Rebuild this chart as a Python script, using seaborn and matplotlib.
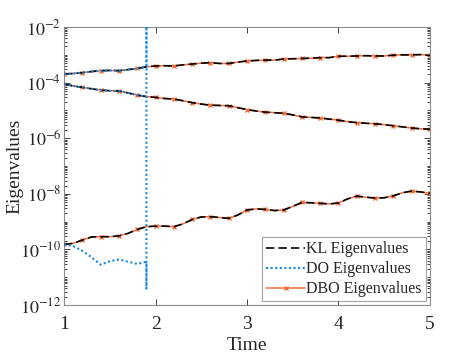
import numpy as np
import seaborn as sns
import matplotlib.pyplot as plt
from matplotlib.lines import Line2D
from matplotlib.ticker import LogLocator, FixedLocator, NullFormatter

# Tempo (passo 0.1)
time = [1.0, 1.1, 1.2, 1.3, 1.4, 1.5, 1.6, 1.7, 1.8, 1.9,
        2.0, 2.1, 2.2, 2.3, 2.4, 2.5, 2.6, 2.7, 2.8, 2.9,
        3.0, 3.1, 3.2, 3.3, 3.4, 3.5, 3.6, 3.7, 3.8, 3.9,
        4.0, 4.1, 4.2, 4.3, 4.4, 4.5, 4.6, 4.7, 4.8, 4.9, 5.0]

# log10 dos autovalores KL / DBO
log_eig1 = [-3.69, -3.67, -3.64, -3.60, -3.57, -3.56, -3.57, -3.53, -3.49, -3.43,
            -3.40, -3.39, -3.40, -3.36, -3.33, -3.30, -3.28, -3.31, -3.31, -3.26,
            -3.22, -3.20, -3.19, -3.19, -3.15, -3.14, -3.13, -3.12, -3.10, -3.10,
            -3.05, -3.05, -3.04, -3.03, -3.04, -3.04, -3.01, -3.00, -3.00, -2.99, -3.02]
log_eig2 = [-4.05, -4.12, -4.17, -4.22, -4.27, -4.29, -4.30, -4.37, -4.45, -4.50,
            -4.53, -4.57, -4.59, -4.65, -4.72, -4.77, -4.81, -4.82, -4.83, -4.90,
            -4.97, -5.02, -5.06, -5.08, -5.10, -5.16, -5.23, -5.25, -5.27, -5.31,
            -5.35, -5.40, -5.44, -5.46, -5.48, -5.51, -5.55, -5.59, -5.63, -5.66, -5.67]
log_eig3 = [-9.82, -9.78, -9.66, -9.55, -9.54, -9.54, -9.51, -9.42, -9.28, -9.18,
            -9.16, -9.16, -9.18, -9.08, -8.92, -8.83, -8.82, -8.85, -8.88, -8.76,
            -8.58, -8.54, -8.56, -8.60, -8.58, -8.45, -8.31, -8.32, -8.34, -8.36,
            -8.33, -8.18, -8.08, -8.12, -8.15, -8.14, -8.07, -7.96, -7.90, -7.93, -7.98]

# DO: so ate t = 1.9, depois diverge
time_do = [1.0, 1.1, 1.2, 1.3, 1.4, 1.5, 1.6, 1.7, 1.8, 1.9]
log_do1 = [-3.69, -3.67, -3.64, -3.60, -3.57, -3.56, -3.57, -3.53, -3.49, -3.43]
log_do2 = [-4.05, -4.12, -4.17, -4.22, -4.27, -4.29, -4.30, -4.37, -4.45, -4.50]
log_do3 = [-9.82, -9.88, -10.05, -10.28, -10.55, -10.42, -10.36, -10.44, -10.52, -10.44]
log_do1_blowup = [1.0]
log_do2_blowup = []
log_do3_blowup = [-11.4, 1.0]

kl_color = 'black'
do_color = '#1589e0'
dbo_color = '#f26b38'

sns.set_style('ticks')
plt.rcParams['font.family'] = ['Liberation Serif', 'DejaVu Serif']
plt.rcParams['mathtext.fontset'] = 'stix'

fig = plt.figure(figsize=(4.75, 3.56), dpi=100)
ax = fig.add_axes([0.135, 0.143, 0.77, 0.781])

t = np.array(time)
for le in [log_eig1, log_eig2, log_eig3]:
    y = 10 ** np.array(le)
    # DBO
    sns.lineplot(x=t, y=y, ax=ax, color=dbo_color, lw=1.1, sort=False,
                 estimator=None, marker='x', markersize=3, markevery=2,
                 markeredgewidth=1.0, markeredgecolor=dbo_color, zorder=2)
    # KL
    sns.lineplot(x=t, y=y, ax=ax, color=kl_color, lw=1.2, sort=False,
                 estimator=None, linestyle=(0, (5, 2.5)), zorder=3)

# DO
for le, extra in [(log_do1, log_do1_blowup), (log_do2, log_do2_blowup),
                  (log_do3, log_do3_blowup)]:
    td = np.array(time_do + [time_do[-1]] * len(extra))
    yd = 10 ** np.array(le + extra)
    sns.lineplot(x=td, y=yd, ax=ax, color=do_color, lw=1.5, sort=False,
                 estimator=None, linestyle=(0, (1, 1.2)), zorder=4)

ax.set_yscale('log')
ax.set_xlim(1, 5)
ax.set_ylim(1e-12, 1e-2)
ax.xaxis.set_major_locator(FixedLocator([1, 2, 3, 4, 5]))
ax.yaxis.set_major_locator(FixedLocator([1e-12, 1e-10, 1e-8, 1e-6, 1e-4, 1e-2]))
ax.yaxis.set_minor_locator(LogLocator(base=10, subs=np.arange(1, 10), numticks=30))
ax.yaxis.set_minor_formatter(NullFormatter())
ax.set_yticklabels([r'$10^{%d}$' % e for e in [-12, -10, -8, -6, -4, -2]])

ax.tick_params(which='both', direction='in', top=True, right=True,
               colors='#262626', labelsize=13, width=0.6)
ax.tick_params(which='major', length=4)
ax.tick_params(which='minor', length=2)
ax.tick_params(axis='x', pad=8, labelsize=14)
ax.tick_params(axis='y', pad=2)
for s in ax.spines.values():
    s.set_color('#8c8c8c')
    s.set_linewidth(0.8)

ax.set_xlabel('Time', fontsize=14, labelpad=3)
ax.set_ylabel('Eigenvalues', fontsize=14)
ax.yaxis.set_label_coords(-0.112, 0.5)

handles = [
    Line2D([], [], color=kl_color, lw=1.2, linestyle=(0, (5, 2.5))),
    Line2D([], [], color=do_color, lw=1.5, linestyle=(0, (1, 1.2))),
    Line2D([], [], color=dbo_color, lw=1.1, marker='x', markersize=3, markeredgewidth=1.0),
]
leg = ax.legend(handles, ['KL Eigenvalues', 'DO Eigenvalues', 'DBO Eigenvalues'],
                loc='lower right', fontsize=11.5, frameon=True, fancybox=False,
                borderaxespad=0.25, handlelength=2.4, handletextpad=0.1,
                labelspacing=0.25, borderpad=0.25)
leg.get_frame().set_edgecolor('#8c8c8c')
leg.get_frame().set_linewidth(0.8)

plt.savefig('out.png', dpi=100)
